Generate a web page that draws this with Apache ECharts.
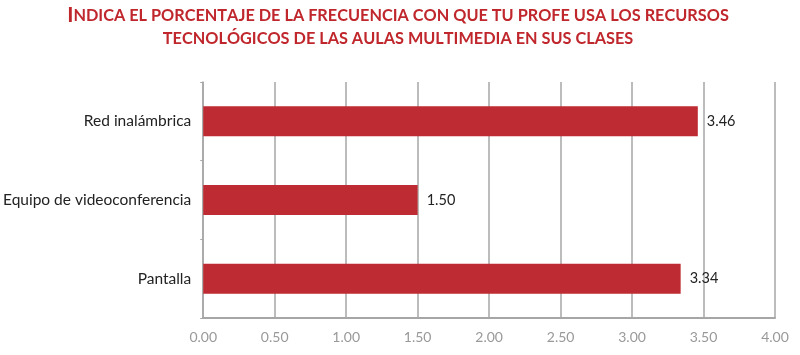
<!DOCTYPE html>
<html><head><meta charset="utf-8">
<script src="https://cdn.jsdelivr.net/npm/echarts@6/dist/echarts.min.js"></script>
<style>html,body{margin:0;padding:0;background:#fff}#c{width:800px;height:355px}</style>
</head><body><div id="c"></div>
<script>
const categories = ["Red inalámbrica", "Equipo de videoconferencia", "Pantalla"];
const values = [3.46, 1.50, 3.34];
const xTicks = [0, 0.5, 1, 1.5, 2, 2.5, 3, 3.5, 4];
const titleLine1 = "Indica el porcentaje de la frecuencia con que tu profe usa los recursos";
const titleLine2 = "tecnológicos de las aulas multimedia en sus clases";

function smallCaps(s){
  let out = "";
  for (const ch of s){
    if (ch !== ch.toLowerCase()) out += "{big|" + ch + "}";
    else out += "{sm|" + ch.toUpperCase() + "}";
  }
  return out;
}
const chart = echarts.init(document.getElementById('c'));
chart.setOption({
  animation:false,
  title:{
    text: smallCaps(titleLine1) + "\n" + smallCaps(titleLine2),
    left: 393, textAlign:'center', top: -1,
    textStyle:{
      lineHeight: 23,
      rich:{
        big:{fontSize:21, fontWeight:'bold', color:'#c0272d', fontFamily:'Lato', lineHeight:23},
        sm:{fontSize:16.3, fontWeight:'bold', color:'#c0272d', fontFamily:'Lato', lineHeight:23}
      }
    }
  },
  grid:{left:202, right:25, top:82, bottom:37},
  xAxis:{
    type:'value', min:0, max:4, interval:0.5,
    axisLine:{show:true, lineStyle:{color:'#a6a6a6', width:2}},
    axisTick:{show:false},
    splitLine:{show:true, lineStyle:{color:'#a6a6a6', width:1.5}},
    axisLabel:{color:'#999', fontSize:14, fontFamily:'Lato', margin:12,
      formatter:v=> xTicks.includes(v) ? v.toFixed(2) : ''}
  },
  yAxis:{
    type:'category', data:categories, inverse:true,
    axisLine:{show:true, lineStyle:{color:'#a6a6a6', width:1.5}},
    axisTick:{show:true, length:3, lineStyle:{color:'#a6a6a6'}},
    axisLabel:{color:'#222', fontSize:15.5, fontFamily:'Lato', margin:12}
  },
  series:[{
    type:'bar', data:values, barWidth:30,
    itemStyle:{color:'#be2b32'},
    label:{show:true, position:'right', distance:9, color:'#222', fontSize:14.5, fontFamily:'Lato',
      formatter:p=>p.value.toFixed(2)}
  }]
});
</script></body></html>
